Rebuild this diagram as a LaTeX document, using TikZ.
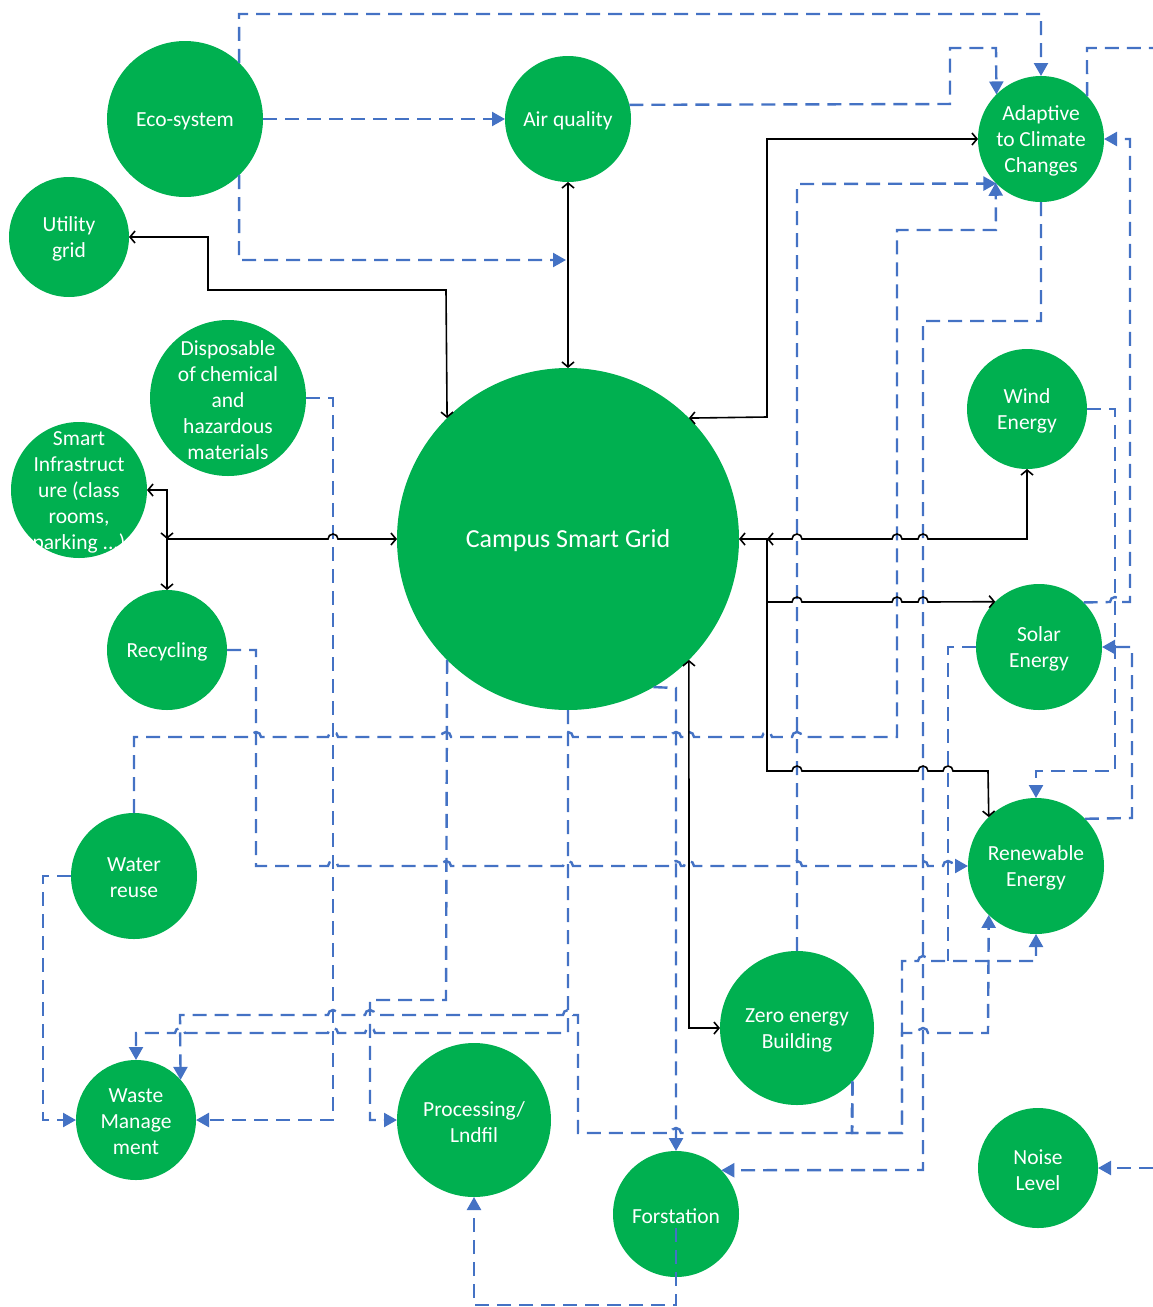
\documentclass[tikz,border=0pt]{standalone}
\usepackage{fontspec}
\setmainfont{Carlito}
\usetikzlibrary{arrows.meta}
\definecolor{cgreen}{HTML}{00B050}
\definecolor{cblue}{HTML}{4472C4}
\newcommand\hopR[2]{-- (#1-5,#2) arc[start angle=180,end angle=0,radius=5pt]}
\newcommand\hopL[2]{-- (#1+5,#2) arc[start angle=0,end angle=180,radius=5pt]}
\tikzset{
  bub/.style={circle, fill=cgreen, inner sep=0pt, outer sep=0pt},
  lbl/.style={text=white, align=center, inner sep=0pt, yshift=-2pt,
              font=\fontsize{21.5}{26}\selectfont},
  blk/.style={draw=black, line width=1.6pt},
  dsh/.style={draw=cblue, line width=2.4pt, dash pattern=on 14pt off 8pt},
  BlkTip/.tip={Straight Barb[length=5pt,width=12pt]},
  BluTip/.tip={Triangle[length=13pt,width=14pt]}
}
\begin{document}
\begin{tikzpicture}[x=1pt,y=-1pt]
\useasboundingbox (0,0) rectangle (1153,1307);
% nodes
\node[bub,minimum size=156pt,label={[lbl]center:Eco-system}] (eco) at (185,119) {};
\node[bub,minimum size=126pt,label={[lbl]center:Air quality}] (air) at (568,119) {};
\node[bub,minimum size=126pt,label={[lbl]center:Adaptive\\to Climate\\Changes}] (adapt) at (1041,139) {};
\node[bub,minimum size=120pt,label={[lbl]center:Utility\\grid}] (util) at (69,237) {};
\node[bub,minimum size=156pt,label={[lbl]center:Disposable\\of chemical\\and\\hazardous\\materials}] (disp) at (228,398) {};
\node[bub,minimum size=136pt,label={[lbl]center:{Smart\\Infrastruct\\ure (class\\rooms,\\parking ...)}}] (smart) at (79,490) {};
\node[bub,minimum size=342pt,label={[lbl,font=\fontsize{26}{30}\selectfont]center:Campus Smart Grid}] (campus) at (568,539) {};
\node[bub,minimum size=120pt,label={[lbl]center:Wind\\Energy}] (wind) at (1027,409) {};
\node[bub,minimum size=126pt,label={[lbl]center:Solar\\Energy}] (solar) at (1039,647) {};
\node[bub,minimum size=120pt,label={[lbl]center:Recycling}] (recyc) at (167,650) {};
\node[bub,minimum size=136pt,label={[lbl]center:Renewable\\Energy}] (renew) at (1036,866) {};
\node[bub,minimum size=126pt,label={[lbl]center:Water\\reuse}] (water) at (134,876) {};
\node[bub,minimum size=154pt,label={[lbl]center:Zero energy\\Building}] (zero) at (797,1028) {};
\node[bub,minimum size=120pt,label={[lbl]center:Waste\\Manage\\ment}] (waste) at (136,1120) {};
\node[bub,minimum size=154pt,label={[lbl]center:Processing/\\Lndfil}] (proc) at (474,1120) {};
\node[bub,minimum size=126pt,label={[lbl]center:Forstation}] (forst) at (676,1214) {};
\node[bub,minimum size=120pt,label={[lbl]center:Noise\\Level}] (noise) at (1038,1168) {};
% free ends
\coordinate (aqpt)  at (566,260);
\coordinate (edgeA) at (1153,48);
\coordinate (edgeN) at (1153,1168);
\coordinate (jS)    at (167,539);
\coordinate (jB)    at (767,539);
\coordinate (jC)    at (767,602);
\coordinate (j948)  at (948,961);
% dashed blue connectors
\draw[dsh,-BluTip] (eco.46) -- (239,14) -- (1041,14) -- (adapt.north);
\draw[dsh,-BluTip] (eco.east) -- (air.west);
\draw[dsh,-BluTip] (eco.-46) -- (239,260) -- (aqpt);
\draw[dsh,-BluTip] (air.13.8) -- (950,104) -- (950,48) -- (996,48) -- (adapt.135.6);
\draw[dsh] (adapt.43.1) -- (1087,48) -- (edgeA);
\draw[dsh,-BluTip] (solar.45.6) \hopR{1115}{602} -- (1130,602) -- (1130,139) -- (adapt.east);
\draw[dsh,-BluTip] (wind.east) -- (1115,409) -- (1115,771) -- (1036,771) -- (renew.north);
\draw[dsh,-BluTip] (renew.44.9) -- (1132,818) -- (1132,647) -- (solar.east);
\draw[dsh,-BluTip] (adapt.south) -- (1041,321) -- (923,321) -- (923,1170) -- (forst.44.3);
\draw[dsh,-BluTip] (zero.north) -- (797,184) -- (adapt.225.6);
\draw[dsh,-BluTip] (water.north) -- (134,737) \hopR{256}{737} \hopR{333}{737} \hopR{446}{737}
   \hopR{568}{737} \hopR{676}{737} \hopR{689}{737} \hopR{767}{737} \hopR{797}{737}
   -- (897,737) -- (897,230) -- (996,230) -- (adapt.224.4);
\draw[dsh,-BluTip] (disp.east) -- (333,398) -- (333,1120) -- (waste.east);
\draw[dsh,-BluTip] (recyc.east) -- (256,650) -- (256,866) \hopR{333}{866} \hopR{446}{866}
   \hopR{568}{866} \hopR{676}{866} \hopR{689}{866} \hopR{797}{866} \hopR{923}{866} \hopR{948}{866}
   -- (renew.west);
\draw[dsh,-BluTip] (water.west) -- (43,876) -- (43,1120) -- (waste.west);
\draw[dsh,-BluTip] (campus.-135.5) -- (446,1000) -- (370,1000) -- (370,1120) -- (proc.west);
\draw[dsh,-BluTip] (campus.south) -- (568,1033) \hopL{370}{1033} \hopL{333}{1033} \hopL{180}{1033}
   -- (136,1033) -- (waste.north);
\draw[dsh,-BluTip] (zero.-44.4) -- (852,1133) \hopL{676}{1133} -- (578,1133) -- (578,1015)
   \hopL{568}{1015} \hopL{370}{1015} \hopL{333}{1015} -- (180,1015) -- (waste.42.8);
\draw[dsh,-BluTip] (zero.-44.4) -- (852,1133) -- (902,1133) -- (902,961) \hopR{923}{961}
   -- (1036,961) -- (renew.south);
\draw[dsh,-BluTip] (zero.-44.4) -- (852,1133) -- (902,1133) -- (902,1033) \hopR{923}{1033}
   -- (988,1033) -- (renew.-134.9);
\draw[dsh] (solar.west) -- (948,647) -- (j948);
\draw[dsh,-BluTip] (campus.-60.6) -- (676,688) -- (forst.north);
\draw[dsh,-BluTip] ([yshift=-14pt]forst.center) -- (676,1305) -- (474,1305) -- (proc.south);
\draw[dsh,-BluTip] (edgeN) -- (noise.east);
% solid black connectors
\draw[blk,BlkTip-BlkTip] (air.south) -- (campus.north);
\draw[blk,BlkTip-BlkTip] (util.east) -- (208,237) -- (208,290) -- (446,290) -- (campus.135.5);
\draw[blk,BlkTip-BlkTip] (adapt.west) -- (767,139) -- (767,417) -- (campus.45.5);
\draw[blk,BlkTip-BlkTip] (smart.east) -- (167,490) -- (jS);
\draw[blk,BlkTip-BlkTip] (recyc.north) -- (jS) \hopR{333}{539} -- (campus.west);
\draw[blk,BlkTip-BlkTip] (campus.east) \hopR{797}{539} \hopR{897}{539} \hopR{923}{539}
   -- (1027,539) -- (wind.south);
\draw[blk,-BlkTip] (jB) ++(10,0) -- (jB);
\draw[blk,-BlkTip] (jB) -- (jC) \hopR{797}{602} \hopR{897}{602} \hopR{923}{602} -- (solar.134.4);
\draw[blk,-BlkTip] (jC) -- (767,771) \hopR{797}{771} \hopR{923}{771} \hopR{948}{771}
   -- (988,771) -- (renew.134.9);
\draw[blk,BlkTip-BlkTip] (campus.-45) -- (689,1028) -- (zero.west);
\end{tikzpicture}
\end{document}
